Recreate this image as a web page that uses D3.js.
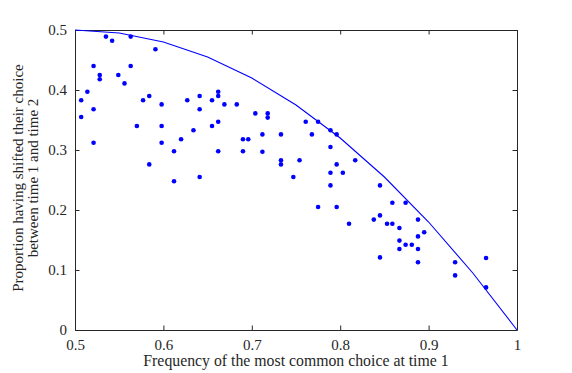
<!DOCTYPE html>
<html>
<head>
<meta charset="utf-8">
<script src="https://cdn.jsdelivr.net/npm/d3@7"></script>
<style>
  body { margin: 0; background: #fff; }
  text { font-family: "Liberation Serif", "DejaVu Serif", serif; fill: #262626; }
</style>
</head>
<body>
<div id="canvas"></div>
<script>
// observed points: frequency of most common choice at time 1, proportion shifted
let freq = [0.535, 0.542, 0.563, 0.591, 0.521, 0.563, 0.528, 0.528, 0.549, 0.556,
  0.514, 0.507, 0.584, 0.577, 0.598, 0.521, 0.507, 0.570, 0.598, 0.521,
  0.598, 0.584, 0.627, 0.641, 0.641, 0.655, 0.662, 0.662, 0.669, 0.683,
  0.655, 0.662, 0.634, 0.620, 0.612, 0.662, 0.690, 0.696, 0.690, 0.612,
  0.641, 0.704, 0.718, 0.718, 0.712, 0.733, 0.712, 0.733, 0.733, 0.754,
  0.747, 0.761, 0.775, 0.768, 0.789, 0.789, 0.789, 0.789, 0.775, 0.796,
  0.796, 0.803, 0.817, 0.796, 0.845, 0.859, 0.874, 0.810, 0.838, 0.845,
  0.853, 0.859, 0.867, 0.867, 0.867, 0.874, 0.881, 0.888, 0.888, 0.888,
  0.845, 0.888, 0.895, 0.930, 0.930, 0.965, 0.965]
let shifted = [0.489, 0.482, 0.489, 0.468, 0.440, 0.440, 0.425, 0.418, 0.425, 0.411,
  0.397, 0.383, 0.390, 0.383, 0.376, 0.368, 0.355, 0.340, 0.340, 0.312,
  0.312, 0.276, 0.383, 0.390, 0.368, 0.383, 0.397, 0.390, 0.376, 0.376,
  0.340, 0.347, 0.333, 0.318, 0.298, 0.298, 0.318, 0.318, 0.298, 0.248,
  0.255, 0.361, 0.361, 0.354, 0.326, 0.326, 0.297, 0.283, 0.276, 0.283,
  0.255, 0.347, 0.347, 0.326, 0.333, 0.305, 0.262, 0.241, 0.205, 0.326,
  0.276, 0.262, 0.283, 0.205, 0.241, 0.212, 0.212, 0.177, 0.184, 0.191,
  0.177, 0.177, 0.170, 0.149, 0.135, 0.142, 0.142, 0.184, 0.156, 0.135,
  0.121, 0.113, 0.163, 0.113, 0.091, 0.120, 0.071]

// upper bound curve
let curveX = [0.5, 0.55, 0.6, 0.65, 0.7, 0.75, 0.8, 0.85, 0.9, 0.95, 1]
let curveY = [0.5, 0.495, 0.48, 0.455, 0.42, 0.375, 0.32, 0.255, 0.18, 0.095, 0]

let xTicks = [0.5, 0.6, 0.7, 0.8, 0.9, 1]
let yTicks = [0, 0.1, 0.2, 0.3, 0.4, 0.5]

let width = 572, height = 373
let margin = {top: 30, right: 55, bottom: 43, left: 75}
let svg

window.onload = function () { setup() }

function setup() {
  svg = d3.select("#canvas")
    .append("svg")
    .attr("width", width)
    .attr("height", height)

  let x = d3.scaleLinear().domain([0.5, 1]).range([margin.left, width - margin.right])
  let y = d3.scaleLinear().domain([0, 0.5]).range([height - margin.bottom, margin.top])

  drawAxes(x, y)

  let line = d3.line().x(d => x(d[0])).y(d => y(d[1]))
  svg.append("path")
    .datum(d3.zip(curveX, curveY))
    .attr("d", line)
    .attr("fill", "none")
    .attr("stroke", "#0000ff")
    .attr("stroke-width", 1.1)

  svg.selectAll("circle.pt")
    .data(d3.zip(freq, shifted))
    .join("circle")
    .attr("class", "pt")
    .attr("cx", d => x(d[0]))
    .attr("cy", d => y(d[1]))
    .attr("r", 2.3)
    .attr("fill", "#0000ff")
}

function drawAxes(x, y) {
  let fmt = d => String(d)
  let tick = 4.5

  let bottom = svg.append("g")
    .attr("transform", `translate(0,${height - margin.bottom})`)
    .call(d3.axisBottom(x).tickValues(xTicks).tickFormat(fmt).tickSizeInner(-tick).tickSizeOuter(0).tickPadding(9))
  let left = svg.append("g")
    .attr("transform", `translate(${margin.left},0)`)
    .call(d3.axisLeft(y).tickValues(yTicks).tickFormat(fmt).tickSizeInner(-tick).tickSizeOuter(0).tickPadding(8))
  let top = svg.append("g")
    .attr("transform", `translate(0,${margin.top})`)
    .call(d3.axisTop(x).tickValues(xTicks).tickFormat("").tickSizeInner(-tick).tickSizeOuter(0))
  let right = svg.append("g")
    .attr("transform", `translate(${width - margin.right},0)`)
    .call(d3.axisRight(y).tickValues(yTicks).tickFormat("").tickSizeInner(-tick).tickSizeOuter(0))

  for (let g of [bottom, left, top, right]) {
    g.selectAll("path, line").attr("stroke", "#262626")
    g.selectAll("text").attr("font-size", 15).attr("fill", "#262626")
      .attr("font-family", "Liberation Serif, DejaVu Serif, serif")
  }

  svg.append("text")
    .attr("x", 296)
    .attr("y", 366)
    .attr("text-anchor", "middle")
    .attr("font-size", 15.8)
    .text("Frequency of the most common choice at time 1")

  let ylab = svg.append("text")
    .attr("transform", `translate(0,${(margin.top + height - margin.bottom) / 2 - 2}) rotate(-90)`)
    .attr("text-anchor", "middle")
    .attr("font-size", 15)
  ylab.append("tspan").attr("x", 0).attr("y", 23).text("Proportion having shifted their choice")
  ylab.append("tspan").attr("x", 0).attr("y", 38).text("between time 1 and time 2")
}
</script>
</body>
</html>
